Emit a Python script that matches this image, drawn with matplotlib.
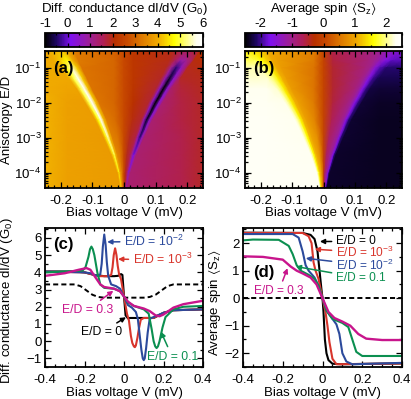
import numpy as np
import matplotlib
matplotlib.use("Agg")
import matplotlib.pyplot as plt
from matplotlib.colors import LinearSegmentedColormap
from matplotlib.ticker import MultipleLocator, LogLocator, NullFormatter

plt.rcParams['font.family'] = ['Liberation Sans', 'DejaVu Sans']
plt.rcParams['mathtext.fontset'] = 'custom'
plt.rcParams['mathtext.rm'] = 'Liberation Sans'
plt.rcParams['mathtext.default'] = 'regular'
plt.rcParams['font.size'] = 9.5

# heatmap rows (a) and (b)
ed_rows = [0.3, 0.16, 0.1, 0.05, 0.025, 0.01, 3.2e-3, 1e-3, 3.2e-4, 1e-4, 3.7e-5]
ridge_v = [0.195, 0.18, 0.165, 0.145, 0.125, 0.1, 0.072, 0.05, 0.03, 0.015, 0.008]
ridge_w = [0.02, 0.018, 0.016, 0.014, 0.012, 0.011, 0.009, 0.007, 0.005, 0.003, 0.0018]

# one row per E/D, columns follow the ridges: edge, outer, peak (5), near 0, 0, near 0, dip (5), outer, edge
didv_table = [
    [3.85, 4.00, 4.00, 4.05, 4.10, 3.80, 3.30, 2.95, 2.6, 2.25, 1.95, 1.75, 1.60, 1.70, 1.85, 2.10, 2.15],
    [3.95, 4.00, 4.05, 4.30, 4.70, 4.00, 3.30, 3.00, 2.6, 2.25, 1.95, 1.50, 0.80, 1.10, 1.60, 2.00, 2.05],
    [4.00, 4.00, 4.10, 4.80, 5.50, 4.30, 3.20, 3.00, 2.6, 2.25, 1.90, 1.00, -0.40, 0.60, 1.50, 1.90, 2.00],
    [4.00, 3.95, 4.00, 5.00, 5.90, 4.30, 3.20, 3.00, 2.6, 2.25, 1.85, 0.70, -0.80, 0.50, 1.40, 1.85, 1.95],
    [4.00, 3.90, 3.90, 5.00, 6.00, 4.20, 3.20, 3.00, 2.6, 2.20, 1.80, 0.60, -1.00, 0.50, 1.40, 1.75, 1.90],
    [4.05, 3.85, 3.80, 5.00, 6.20, 4.20, 3.20, 3.00, 2.6, 2.10, 1.80, 0.50, -1.10, 0.40, 1.35, 1.70, 1.85],
    [4.05, 3.85, 3.80, 4.70, 5.90, 4.10, 3.30, 3.10, 2.6, 2.00, 1.80, 0.70, -0.80, 0.50, 1.35, 1.70, 1.85],
    [4.05, 3.85, 3.78, 4.50, 5.40, 4.10, 3.40, 3.20, 2.6, 1.90, 1.70, 0.80, -0.35, 0.70, 1.35, 1.65, 1.85],
    [4.05, 3.85, 3.78, 4.30, 5.00, 4.00, 3.50, 3.20, 2.6, 1.90, 1.60, 1.00, 0.10, 0.80, 1.35, 1.65, 1.85],
    [4.05, 3.85, 3.78, 4.10, 4.60, 4.00, 3.60, 3.10, 2.6, 1.90, 1.60, 1.10, 0.60, 1.00, 1.35, 1.65, 1.85],
    [4.05, 3.85, 3.78, 3.90, 4.10, 3.90, 3.60, 3.00, 2.6, 2.00, 1.60, 1.30, 1.00, 1.20, 1.35, 1.65, 1.85],
]
spin_table = [
    [1.50, 1.50, 1.45, 1.35, 1.20, 1.05, 0.98, 0.60, 0, -0.60, -0.95, -1.05, -1.20, -1.35, -1.45, -1.50, -1.52],
    [1.85, 1.85, 1.80, 1.60, 1.30, 1.05, 0.95, 0.55, 0, -0.55, -0.92, -1.05, -1.30, -1.60, -1.80, -1.85, -1.87],
    [2.12, 2.12, 2.00, 1.80, 1.40, 1.05, 0.90, 0.50, 0, -0.50, -0.90, -1.05, -1.50, -1.90, -2.05, -2.10, -2.10],
    [2.20, 2.20, 2.10, 1.90, 1.50, 1.10, 0.90, 0.50, 0, -0.50, -0.90, -1.10, -1.60, -2.00, -2.15, -2.20, -2.20],
    [2.30, 2.30, 2.20, 1.95, 1.50, 1.10, 0.90, 0.50, 0, -0.50, -0.90, -1.10, -1.60, -2.05, -2.25, -2.30, -2.30],
    [2.33, 2.33, 2.28, 2.00, 1.50, 1.10, 0.95, 0.55, 0, -0.55, -0.95, -1.10, -1.60, -2.05, -2.30, -2.35, -2.35],
    [2.35, 2.35, 2.30, 2.05, 1.55, 1.10, 0.95, 0.65, 0, -0.65, -0.95, -1.10, -1.60, -2.10, -2.32, -2.37, -2.37],
    [2.37, 2.37, 2.30, 2.05, 1.60, 1.15, 1.00, 0.75, 0, -0.75, -1.00, -1.15, -1.60, -2.10, -2.32, -2.37, -2.37],
    [2.37, 2.37, 2.32, 2.05, 1.60, 1.20, 1.05, 0.75, 0, -0.75, -1.05, -1.20, -1.60, -2.10, -2.33, -2.38, -2.38],
    [2.38, 2.38, 2.33, 2.10, 1.70, 1.30, 1.10, 0.75, 0, -0.75, -1.10, -1.30, -1.70, -2.10, -2.33, -2.38, -2.38],
    [2.38, 2.38, 2.33, 2.10, 1.80, 1.40, 1.10, 0.75, 0, -0.75, -1.10, -1.40, -1.80, -2.10, -2.33, -2.38, -2.38],
]

# panel (c) curves
c0_v = [-0.4, -0.25, -0.2, -0.15, -0.1, -0.05, -0.03, -0.015, -0.008, 0, 0.008, 0.02, 0.03, 0.1, 0.15, 0.2, 0.25, 0.4]
c0_y = [4.05, 4.05, 4.0, 3.85, 3.78, 3.78, 3.8, 3.9, 3.85, 2.6, 1.5, 1.33, 1.35, 1.35, 1.35, 1.65, 1.8, 1.85]
c3_v = [-0.4, -0.2, -0.15, -0.12, -0.08, -0.065, -0.058, -0.052, -0.045, -0.038, -0.032, -0.025, -0.015, 0, 0.015, 0.025, 0.035, 0.042, 0.05, 0.055, 0.06, 0.068, 0.075, 0.085, 0.1, 0.15, 0.2, 0.25, 0.4]
c3_y = [4.05, 4.0, 3.85, 3.78, 3.78, 3.85, 4.3, 5.0, 5.4, 5.0, 4.4, 3.9, 3.6, 2.6, 1.6, 1.2, 0.3, -0.1, -0.3, -0.35, -0.25, 0.2, 0.7, 1.25, 1.35, 1.35, 1.65, 1.8, 1.85]
c2_v = [-0.4, -0.2, -0.17, -0.15, -0.13, -0.12, -0.113, -0.107, -0.1, -0.093, -0.087, -0.08, -0.065, -0.04, -0.02, 0, 0.02, 0.04, 0.06, 0.07, 0.08, 0.088, 0.095, 0.1, 0.105, 0.112, 0.12, 0.13, 0.15, 0.2, 0.25, 0.4]
c2_y = [4.05, 4.0, 3.95, 3.85, 3.8, 3.9, 4.5, 5.5, 6.2, 5.6, 4.6, 3.8, 3.3, 3.2, 3.05, 2.6, 2.1, 1.95, 1.7, 1.3, 0.3, -0.5, -1.0, -1.1, -1.0, -0.4, 0.5, 1.3, 1.4, 1.65, 1.8, 1.85]
c1_v = [-0.4, -0.25, -0.21, -0.195, -0.18, -0.172, -0.165, -0.158, -0.15, -0.135, -0.12, -0.1, -0.05, -0.02, 0, 0.02, 0.05, 0.1, 0.125, 0.14, 0.15, 0.158, 0.165, 0.172, 0.18, 0.195, 0.21, 0.25, 0.3, 0.4]
c1_y = [4.0, 4.08, 4.1, 4.3, 4.9, 5.35, 5.5, 5.35, 5.0, 4.0, 3.3, 3.1, 3.05, 2.9, 2.6, 2.25, 2.05, 1.85, 1.6, 0.7, 0.0, -0.3, -0.4, -0.3, 0.0, 0.8, 1.4, 1.85, 2.0, 2.05]
c03_v = [-0.4, -0.3, -0.23, -0.19, -0.17, -0.15, -0.12, -0.1, -0.05, -0.02, 0, 0.02, 0.05, 0.1, 0.13, 0.16, 0.18, 0.2, 0.25, 0.3, 0.4]
c03_y = [3.8, 3.95, 4.15, 4.25, 4.15, 3.8, 3.3, 3.15, 3.05, 2.9, 2.6, 2.3, 2.05, 1.9, 1.75, 1.5, 1.45, 1.55, 1.95, 2.15, 2.35]
cdash_v = [-0.4, -0.25, -0.22, -0.19, -0.16, -0.13, -0.1, 0.1, 0.13, 0.16, 0.19, 0.22, 0.25, 0.4]
cdash_y = [3.3, 3.3, 3.2, 2.95, 2.7, 2.57, 2.53, 2.53, 2.57, 2.7, 2.95, 3.2, 3.3, 3.3]

# panel (d) curves
d0_v = [-0.4, -0.1, -0.06, -0.04, -0.025, -0.015, -0.005, 0, 0.005, 0.012, 0.02, 0.03, 0.05, 0.09, 0.4]
d0_y = [2.38, 2.37, 2.3, 2.15, 1.7, 1.0, 0.3, 0, -0.5, -1.5, -2.0, -2.25, -2.38, -2.4, -2.37]
d3_v = [-0.4, -0.1, -0.07, -0.055, -0.045, -0.035, -0.02, 0, 0.015, 0.025, 0.035, 0.05, 0.07, 0.4]
d3_y = [2.37, 2.37, 2.25, 2.0, 1.3, 1.0, 0.7, 0, -0.5, -1.0, -1.6, -2.2, -2.4, -2.37]
d2_v = [-0.4, -0.15, -0.12, -0.1, -0.085, -0.07, -0.04, -0.02, 0, 0.02, 0.05, 0.07, 0.085, 0.1, 0.12, 0.15, 0.4]
d2_y = [2.33, 2.33, 2.2, 1.7, 1.2, 1.0, 0.75, 0.45, 0, -0.45, -0.75, -0.95, -1.3, -2.0, -2.3, -2.4, -2.35]
d1_v = [-0.4, -0.35, -0.22, -0.17, -0.15, -0.13, -0.11, -0.07, -0.04, -0.02, 0, 0.02, 0.05, 0.1, 0.13, 0.15, 0.17, 0.2, 0.4]
d1_y = [2.1, 2.13, 2.12, 1.9, 1.6, 1.2, 1.0, 0.85, 0.7, 0.45, 0, -0.45, -0.75, -0.9, -1.05, -1.5, -1.95, -2.1, -2.1]
d03_v = [-0.4, -0.3, -0.2, -0.16, -0.13, -0.1, -0.06, -0.03, 0, 0.03, 0.06, 0.1, 0.14, 0.18, 0.22, 0.3, 0.4]
d03_y = [1.52, 1.5, 1.4, 1.15, 1.0, 0.9, 0.75, 0.5, 0, -0.5, -0.72, -0.85, -1.0, -1.3, -1.47, -1.52, -1.52]

BLACK, RED, BLUE, GREEN, PINK = "black", "#d8352c", "#2c4a9c", "#0b8f50", "#c8158c"

cmap = LinearSegmentedColormap.from_list("pm3d", [
    (0.0, "#000000"), (0.07, "#1c0560"), (0.16, "#7f10f0"), (0.29, "#a02090"),
    (0.37, "#b01f55"), (0.44, "#b83000"), (0.52, "#c84a00"), (0.60, "#dc7400"),
    (0.71, "#f0a800"), (0.82, "#ffff00"), (0.96, "#fffff0"), (1.0, "#ffffff")])

W, H = 411, 399
fig = plt.figure(figsize=(W / 100, H / 100), dpi=100)


def px_axes(x0, x1, y0, y1):
    return fig.add_axes([x0 / W, 1 - y1 / H, (x1 - x0) / W, (y1 - y0) / H])


def style(ax):
    ax.tick_params(which='both', direction='in', top=True, right=True, width=0.9, pad=2.5)
    ax.tick_params(which='major', length=4)
    ax.tick_params(which='minor', length=2)
    ax.tick_params(axis='x', which='major', pad=5)
    for s in ax.spines.values():
        s.set_linewidth(1.3)


# mesh columns follow the ridges
p = np.array(ridge_v)
w = np.array(ridge_w)
outer = np.maximum(0.18, p + 2 * w + 0.005)
near = np.minimum(0.03, 0.5 * (p - 2 * w))
edge = np.full_like(p, 0.25)
mesh_v = np.column_stack([-edge, -outer, -p - 2 * w, -p - w, -p, -p + w, -p + 2 * w, -near, 0 * p,
                          near, p - 2 * w, p - w, p, p + w, p + 2 * w, outer, edge])
mesh_e = np.repeat(np.array(ed_rows)[:, None], mesh_v.shape[1], axis=1)

panels = [
    (45, 203, didv_table, -1, 6, range(-1, 7), "Diff. conductance dI/dV (G$_0$)", "(a)"),
    (245, 402, spin_table, -2.5, 2.5, range(-2, 3), r"Average spin $\langle$S$_z$$\rangle$", "(b)"),
]
for x0, x1, table, vmin, vmax, cticks, title, tag in panels:
    ax = px_axes(x0, x1, 51, 188)
    m = ax.pcolormesh(mesh_v, mesh_e, np.array(table), cmap=cmap, vmin=vmin, vmax=vmax, shading='gouraud')
    ax.set_yscale('log')
    ax.set_xlim(-0.25, 0.25)
    ax.set_ylim(3.7e-5, 0.3)
    style(ax)
    ax.xaxis.set_major_locator(MultipleLocator(0.1))
    ax.xaxis.set_minor_locator(MultipleLocator(0.02))
    ax.yaxis.set_major_locator(LogLocator(10, numticks=8))
    ax.yaxis.set_minor_locator(LogLocator(10, subs=np.arange(2, 10), numticks=8))
    ax.yaxis.set_minor_formatter(NullFormatter())
    ax.set_xticks([-0.2, -0.1, 0, 0.1, 0.2], ["-0.2", "-0.1", "0", "0.1", "0.2"])
    ax.set_xlabel("Bias voltage V (mV)", labelpad=0)
    if tag == "(a)":
        ax.set_ylabel("Anisotropy E/D")
        ax.yaxis.set_label_coords(-32 / 158, 0.5)
    ax.text(8 / (x1 - x0), 1 - 17 / 137, tag, transform=ax.transAxes, fontsize=12, fontweight='bold', va='center')

    cax = px_axes(x0, x1, 33, 47)
    cb = fig.colorbar(m, cax=cax, orientation='horizontal')
    cb.set_ticks(list(cticks))
    cb.set_ticklabels([str(t) for t in cticks])
    cax.xaxis.set_ticks_position('both')
    cax.xaxis.set_tick_params(labeltop=True, labelbottom=False)
    cax.xaxis.set_minor_locator(MultipleLocator(0.5))
    cax.tick_params(which='both', direction='in', width=0.9, pad=2.5)
    cax.tick_params(which='major', length=3)
    cax.tick_params(which='minor', length=1.5)
    cb.outline.set_linewidth(1.3)
    cax.set_title(title, fontsize=9.5, pad=15)

# panel (c)
ax = px_axes(45, 203, 228, 367)
ax.plot(cdash_v, cdash_y, color=BLACK, lw=1.4, ls=(0, (2.6, 1.6)))
ax.plot(c0_v, c0_y, color=BLACK, lw=1.5)
ax.plot(c3_v, c3_y, color=RED, lw=1.5)
ax.plot(c2_v, c2_y, color=BLUE, lw=1.5)
ax.plot(c1_v, c1_y, color=GREEN, lw=1.5)
ax.plot(c03_v, c03_y, color=PINK, lw=1.7)
ax.set_xlim(-0.4, 0.4)
ax.set_ylim(-1.5, 6.58)
style(ax)
ax.set_xticks([-0.4, -0.2, 0, 0.2, 0.4], ["-0.4", "-0.2", "0", "0.2", "0.4"])
ax.xaxis.set_minor_locator(MultipleLocator(0.05))
ax.yaxis.set_major_locator(MultipleLocator(1))
ax.yaxis.set_minor_locator(MultipleLocator(0.5))
ax.set_xlabel("Bias voltage V (mV)", labelpad=1)
ax.set_ylabel("Diff. conductance dI/dV (G$_0$)")
ax.yaxis.set_label_coords(-30 / 158, 0.48)
ax.text(8 / 158, 1 - 17 / 139, "(c)", transform=ax.transAxes, fontsize=12, fontweight='bold', va='center')

c_notes = [
    ("E/D = 10$^{-2}$", (0.0, 5.8), (-0.085, 5.77), BLUE, 'left'),
    ("E/D = 10$^{-3}$", (0.044, 4.73), (-0.03, 4.77), RED, 'left'),
    ("E/D = 0.3", (-0.185, 1.82), (-0.054, 2.93), PINK, 'center'),
    ("E/D = 0", (-0.115, 0.51), (0.01, 1.39), BLACK, 'center'),
    ("E/D = 0.1", (0.244, -0.9), (0.187, 0.55), GREEN, 'center'),
]
for label, xytext, xy, col, ha in c_notes:
    ax.annotate(label, xy=xy, xytext=xytext, color=col, ha=ha, va='center', fontsize=8.8,
                arrowprops=dict(arrowstyle='-|>', color=col, lw=1.1, mutation_scale=7, shrinkA=1, shrinkB=0))

# panel (d)
ax = px_axes(243, 402, 228, 367)
ax.axhline(0, color=BLACK, lw=1.4, ls=(0, (2.6, 1.6)))
ax.plot(d0_v, d0_y, color=BLACK, lw=1.5)
ax.plot(d3_v, d3_y, color=RED, lw=1.5)
ax.plot(d2_v, d2_y, color=BLUE, lw=1.5)
ax.plot(d1_v, d1_y, color=GREEN, lw=1.5)
ax.plot(d03_v, d03_y, color=PINK, lw=1.7)
ax.set_xlim(-0.4, 0.4)
ax.set_ylim(-2.5, 2.55)
style(ax)
ax.set_xticks([-0.4, -0.2, 0, 0.2, 0.4], ["-0.4", "-0.2", "0", "0.2", "0.4"])
ax.xaxis.set_minor_locator(MultipleLocator(0.05))
ax.yaxis.set_major_locator(MultipleLocator(1))
ax.yaxis.set_minor_locator(MultipleLocator(0.5))
ax.set_xlabel("Bias voltage V (mV)", labelpad=1)
ax.set_ylabel(r"Average spin $\langle$S$_z$$\rangle$")
ax.yaxis.set_label_coords(-20 / 159, 0.46)
ax.text(10 / 159, 1 - 44 / 139, "(d)", transform=ax.transAxes, fontsize=12, fontweight='bold', va='center')

d_notes = [
    ("E/D = 0", (0.067, 2.06), (-0.013, 2.06), BLACK, 'left'),
    ("E/D = 10$^{-3}$", (0.067, 1.66), (-0.039, 1.78), RED, 'left'),
    ("E/D = 10$^{-2}$", (0.067, 1.2), (-0.084, 1.45), BLUE, 'left'),
    ("E/D = 0.1", (0.067, 0.74), (-0.134, 1.15), GREEN, 'left'),
    ("E/D = 0.3", (-0.22, 0.26), (-0.176, 1.09), PINK, 'center'),
]
for label, xytext, xy, col, ha in d_notes:
    ax.annotate(label, xy=xy, xytext=xytext, color=col, ha=ha, va='center', fontsize=8.6,
                arrowprops=dict(arrowstyle='-|>', color=col, lw=1.1, mutation_scale=7, shrinkA=1, shrinkB=0))

fig.savefig("out.png", dpi=100)
